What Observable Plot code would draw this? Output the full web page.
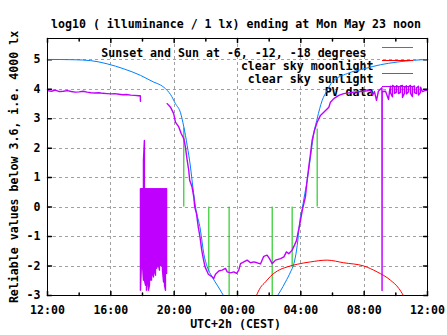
<!DOCTYPE html>
<html><head><meta charset="utf-8">
<script src="https://cdn.jsdelivr.net/npm/d3@7"></script>
<script src="https://cdn.jsdelivr.net/npm/@observablehq/plot@0.6"></script>
<style>
html,body{margin:0;padding:0;background:#fff;}
#chart{width:447px;height:335px;}
</style>
</head><body><div id="chart"></div>
<script>
// ---- texts ----
const titleText = "log10 ( illuminance / 1 lx) ending at Mon May 23 noon";
const xLabelText = "UTC+2h (CEST)";
const yLabelText = "Reliable values below 3.6, i.e. 4000 lx";

// ---- axes (x = hours after Sun May 22, 12:00 CEST) ----
const xTicks = [0, 4, 8, 12, 16, 20, 24];
const xTickLabels = ["12:00", "16:00", "20:00", "00:00", "04:00", "08:00", "12:00"];
const xMinorTicks = [2, 6, 10, 14, 18, 22];
const xGrid = [4, 8, 12, 16, 20];
const yTicks = [-3, -2, -1, 0, 1, 2, 3, 4, 5];
const yGrid = [-2, -1, 0, 1, 2, 3, 4, 5];

// ---- legend ----
const legendLabels = ["Sunset and Sun at -6, -12, -18 degrees", "clear sky moonlight", "clear sky sunlight", "PV data"];
const legendColors = ["#00c000", "#ff0000", "#0080ff", "#c000ff"];

// ---- sunset / sun at -6, -12, -18 degrees (vertical lines from 0) ----
const sunEventHours = [8.61, 10.19, 11.47, 14.19, 15.45, 17.03];
const sunEventEnds  = [2.68, -2.2, -3.2, -3.2, -2.05, 2.65];

// ---- clear sky sunlight ----
const sunEveHours  = [0, 1.66, 2.72, 3.77, 4.82, 5.87, 6.71, 7.14, 7.56, 7.77, 8.08, 8.4, 8.61, 8.82, 9.03, 9.18, 9.35, 9.66, 9.87, 10.09, 10.4, 10.72, 11.1, 11.4];
const sunEveValues = [5.01, 5.0, 4.97, 4.86, 4.69, 4.47, 4.24, 4.14, 3.96, 3.82, 3.51, 3.2, 2.72, 2.1, 1.36, 0.68, 0.0, -0.78, -1.58, -2.03, -2.37, -2.65, -2.99, -3.3];
const sunMornHours  = [14.2, 14.5, 14.72, 15.03, 15.35, 15.56, 15.73, 15.81, 15.94, 16.09, 16.2, 16.4, 16.61, 16.78, 17.03, 17.35, 17.66, 17.98, 18.93, 19.98, 21.03, 22.08, 23.14, 24];
const sunMornValues = [-3.3, -3.03, -2.84, -2.54, -2.2, -1.92, -1.46, -1.13, -0.45, -0.05, 0.3, 0.91, 1.7, 2.38, 3.0, 3.62, 3.96, 4.24, 4.53, 4.69, 4.83, 4.92, 4.98, 5.01];

// ---- clear sky moonlight ----
const moonHours  = [13.0, 13.2, 13.45, 13.77, 14.08, 14.51, 15.14, 15.77, 16.61, 17.66, 18.71, 19.98, 20.82, 21.66, 22.19, 22.47, 22.6];
const moonValues = [-3.3, -3.0, -2.73, -2.54, -2.35, -2.17, -2.03, -1.94, -1.86, -1.8, -1.89, -2.0, -2.2, -2.48, -2.76, -3.0, -3.15];

// ---- PV data ----
const pvNoonHours  = [0, 0.25, 0.5, 0.75, 1.0, 1.25, 1.5, 1.75, 2.0, 2.25, 2.5, 2.75, 3.0, 3.25, 3.5, 3.75, 4.0, 4.25, 4.5, 4.75, 5.0, 5.25, 5.5, 5.75, 5.86, 5.87];
const pvNoonValues = [3.95, 3.93, 3.97, 3.92, 3.93, 3.95, 3.92, 3.90, 3.91, 3.93, 3.90, 3.88, 3.87, 3.88, 3.86, 3.85, 3.84, 3.85, 3.83, 3.81, 3.82, 3.80, 3.79, 3.78, 3.78, 3.59];

const pvNoisyHours  = [5.87, 5.93, 6.00, 6.06, 6.12, 6.19, 6.25, 6.31, 6.38, 6.44, 6.50, 6.57, 6.63, 6.69, 6.76, 6.82, 6.88, 6.95, 7.01, 7.07, 7.14, 7.20, 7.26, 7.33, 7.39, 7.45, 7.52];
const pvNoisyHigh   = [0.62, 0.62, 0.62, 1.59, 2.26, 0.62, 0.62, 0.62, 0.62, 0.62, 0.62, 0.62, 0.62, 0.62, 0.62, 0.62, 0.62, 0.62, 0.62, 0.62, 0.62, 0.62, 0.62, 0.62, 0.62, 0.62, 0.62];
const pvNoisyLow    = [-2.82, -1.97, -1.97, -2.48, -2.48, -2.65, -2.82, -2.54, -2.82, -2.65, -2.48, -2.48, -2.25, -2.37, -2.2, -2.31, -2.08, -2.0, -1.97, -2.14, -1.97, -2.0, -2.14, -2.54, -2.65, -2.82, -2.25];

const pvNightHours  = [7.56, 7.77, 7.97, 8.08, 8.29, 8.45, 8.61, 8.71, 8.82, 8.92, 8.98, 9.13, 9.24, 9.30, 9.41, 9.52, 9.63, 9.74, 9.84, 9.95, 10.16, 10.40, 10.50, 10.61, 10.82, 11.03, 11.24, 11.35, 11.56, 11.77, 11.94, 12.08, 12.19, 12.40, 12.61, 12.82, 13.03, 13.24, 13.45, 13.66, 13.87, 14.02, 14.19, 14.40, 14.72, 14.93, 15.09, 15.24, 15.45, 15.60, 15.73, 15.81, 15.90, 15.98, 16.09, 16.19, 16.29, 16.40, 16.50, 16.61, 16.71, 16.86, 17.03, 17.24, 17.45, 17.77, 17.87, 18.08, 18.40, 18.71, 19.36, 19.98, 20.40, 20.53, 20.65, 20.78, 20.90, 21.12, 21.13, 21.14, 21.35, 21.54, 21.60];
const pvNightValues = [3.51, 3.39, 3.17, 2.88, 2.72, 2.49, 2.32, 2.04, 1.59, 1.25, 0.91, 0.68, 0.34, 0.0, -0.22, -0.67, -1.01, -1.46, -1.75, -2.03, -2.28, -2.37, -2.42, -2.28, -2.17, -2.14, -2.08, -2.2, -2.23, -2.2, -2.25, -2.14, -1.92, -1.86, -1.8, -1.89, -1.86, -1.89, -1.93, -1.67, -1.63, -1.75, -1.92, -1.8, -1.75, -1.69, -1.52, -1.58, -1.46, -1.29, -1.13, -0.9, -0.67, -0.45, -0.11, 0.12, 0.35, 0.91, 1.36, 1.81, 2.26, 2.6, 2.88, 3.11, 3.22, 3.39, 3.56, 3.68, 3.79, 3.85, 3.9, 3.93, 3.96, 3.80, 3.92, 3.62, 3.93, 4.05, -2.83, 3.92, 3.93, 3.65, 3.93];

const pvLateHours = [21.66, 21.79, 21.92, 22.04, 22.17, 22.29, 22.42, 22.55, 22.67, 22.8, 22.93, 23.05, 23.18, 23.31, 23.43, 23.56];
const pvLateHigh  = [4.10, 4.13, 4.08, 4.12, 4.07, 4.11, 4.13, 4.06, 4.12, 4.09, 4.13, 4.08, 4.11, 4.05, 4.10, 4.07];
const pvLateLow   = [3.88, 3.74, 3.86, 3.90, 3.85, 3.89, 3.72, 3.87, 3.84, 3.91, 3.86, 3.75, 3.88, 3.85, 3.80, 3.89];

const pvEndHours  = [23.68, 23.87, 24.0];
const pvEndValues = [3.92, 3.96, 3.96];

// ---- build tables ----
const rows = (hs, vs, seg) => hs.map((h, i) => ({h, v: vs[i], seg}));
const zig = (hs, hi, lo, seg) => hs.flatMap((h, i) => i % 2 === 0
  ? [{h, v: hi[i], seg}, {h, v: lo[i], seg}]
  : [{h, v: lo[i], seg}, {h, v: hi[i], seg}]);

const sunRows = [...rows(sunEveHours, sunEveValues, "eve"), ...rows(sunMornHours, sunMornValues, "morn")];
const moonRows = rows(moonHours, moonValues, "moon");
const pvRows = [
  ...rows(pvNoonHours, pvNoonValues, "a"),
  ...zig(pvNoisyHours, pvNoisyHigh, pvNoisyLow, "b"),
  ...rows(pvNightHours, pvNightValues, "c"),
  ...zig(pvLateHours, pvLateHigh, pvLateLow, "c"),
  ...rows(pvEndHours, pvEndValues, "c")
];
const sunEvents = sunEventHours.map((h, i) => ({h, end: sunEventEnds[i]}));

const tickShape = {draw(ctx, l) { ctx.moveTo(0, 0); ctx.lineTo(0, -l); }};
const FS = 11.6;
const crisp = {shapeRendering: "crispEdges"};
const M = {left: 47, right: 20, top: 38, bottom: 40};
const W = 447, H = 335;

const legendTextMarks = legendLabels.map((lab, i) =>
  Plot.text([lab], {text: d => d, frameAnchor: "top-right", dx: i === 0 ? -61 : -54, dy: 10 + i * 13, textAnchor: "end", fill: "black"}));

const chart = Plot.plot({
  width: W, height: H,
  marginLeft: M.left, marginRight: M.right, marginTop: M.top, marginBottom: M.bottom,
  style: {fontFamily: "'DejaVu Sans Mono', monospace", fontSize: FS + "px", fontWeight: "bold", color: "black", background: "white"},
  x: {domain: [0, 24]},
  y: {domain: [-3, 5.72]},
  marks: [
    Plot.gridX(xGrid, {stroke: "#a0a0a0", strokeOpacity: 1, strokeDasharray: "3,3", ...crisp}),
    Plot.gridY(yGrid, {stroke: "#a0a0a0", strokeOpacity: 1, strokeDasharray: "3,3", ...crisp}),
    Plot.axisX({ticks: xTicks, tickSize: 0, tickPadding: 10, tickFormat: d => xTickLabels[xTicks.indexOf(d)], label: null}),
    Plot.axisY({ticks: yTicks, tickSize: 0, tickPadding: 7, tickFormat: d => String(d), label: null}),
    Plot.vector(xTicks, {x: d => d, frameAnchor: "bottom", rotate: 0, anchor: "start", length: 4, shape: tickShape, stroke: "black"}),
    Plot.vector(xTicks, {x: d => d, frameAnchor: "top", rotate: 180, anchor: "start", length: 4, shape: tickShape, stroke: "black"}),
    Plot.vector(xMinorTicks, {x: d => d, frameAnchor: "bottom", rotate: 0, anchor: "start", length: 2.5, shape: tickShape, stroke: "black"}),
    Plot.vector(xMinorTicks, {x: d => d, frameAnchor: "top", rotate: 180, anchor: "start", length: 2.5, shape: tickShape, stroke: "black"}),
    Plot.vector(yTicks, {y: d => d, frameAnchor: "left", rotate: 90, anchor: "start", length: 4, shape: tickShape, stroke: "black"}),
    Plot.vector(yTicks, {y: d => d, frameAnchor: "right", rotate: -90, anchor: "start", length: 4, shape: tickShape, stroke: "black"}),
    ...legendTextMarks,
    Plot.ruleX(sunEvents, {x: "h", y1: 0, y2: "end", stroke: legendColors[0], strokeWidth: 1, clip: true}),
    Plot.line(moonRows, {x: "h", y: "v", z: "seg", stroke: legendColors[1], strokeWidth: 1, curve: "monotone-x", clip: true}),
    Plot.line(sunRows, {x: "h", y: "v", z: "seg", stroke: legendColors[2], strokeWidth: 1, curve: "monotone-x", clip: true}),
    Plot.line(pvRows, {x: "h", y: "v", z: "seg", stroke: legendColors[3], strokeWidth: 1.4, clip: true}),
    Plot.frame({stroke: "black", strokeWidth: 1, ...crisp}),
    Plot.text([titleText], {text: d => d, frameAnchor: "top", dy: -19, dx: -1.5}),
    Plot.text([xLabelText], {text: d => d, frameAnchor: "bottom", dy: 32, dx: -2}),
    Plot.text([yLabelText], {text: d => d, frameAnchor: "left", textAnchor: "middle", dx: -33, rotate: -90})
  ]
});

// legend line samples (key swatches) inside the frame, top right
const key = d3.select(chart).append("g").attr("class", "key-samples");
legendColors.forEach((c, i) => {
  const yy = M.top + 9 + i * 13 + 0.5;
  key.append("line")
    .attr("x1", W - M.right - 45).attr("x2", W - M.right - 14)
    .attr("y1", yy).attr("y2", yy)
    .attr("stroke", c).attr("stroke-width", 1);
});
document.getElementById("chart").appendChild(chart);
</script>
</body></html>
